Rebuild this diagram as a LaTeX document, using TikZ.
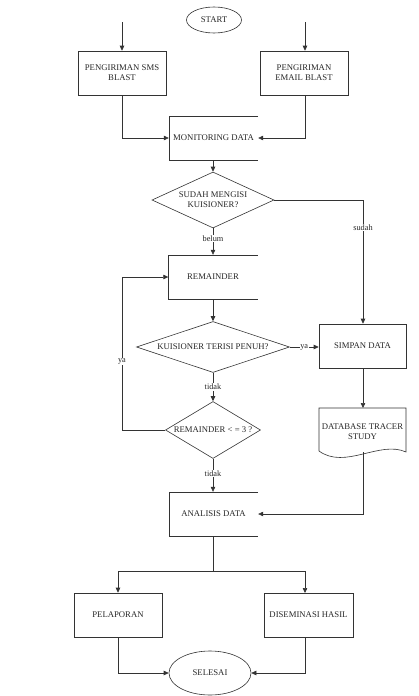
\documentclass[tikz,border=0pt]{standalone}
\usepackage{fontspec}
\setmainfont{Liberation Serif}
\usetikzlibrary{arrows.meta,shapes.geometric}
\begin{document}
\begin{tikzpicture}[x=1pt,y=-1pt,
 line/.style={draw=black!80, line width=0.6pt},
 arr/.style={line, -{Triangle[length=5pt,width=4.5pt]}},
 txt/.style={font=\fontsize{8.7}{10}\selectfont, align=center, inner sep=0pt, text=black!85},
 box/.style={txt, line, rectangle, minimum width=88pt, minimum height=44pt},
 obox/.style={txt, rectangle, minimum width=89pt, minimum height=44pt},
 dia/.style={txt, line, diamond},
 ell/.style={txt, line, ellipse},
 lbl/.style={font=\fontsize{8.3}{9}\selectfont, fill=white, inner sep=0.6pt, text=black!85},
]
\useasboundingbox (0,0) rectangle (419,696);

% nodes
\node[ell, minimum width=55pt, minimum height=26pt] (start) at (214,20) {START};
\node[box] (sms) at (122,73) {PENGIRIMAN SMS\\BLAST};
\node[box] (email) at (304,73) {PENGIRIMAN\\EMAIL BLAST};
\node[obox] (mon) at (213.5,138) {MONITORING DATA};
\draw[line] (mon.north east) -- (mon.north west) -- (mon.south west) -- (mon.south east);
\node[dia, minimum width=122pt, minimum height=56pt, shape aspect=2.18] (d1) at (213,200) {SUDAH MENGISI\\KUISIONER?};
\node[obox] (rem) at (213,277) {REMAINDER};
\draw[line] (rem.north east) -- (rem.north west) -- (rem.south west) -- (rem.south east);
\node[dia, minimum width=153pt, minimum height=51pt, shape aspect=3] (d2) at (213,347) {KUISIONER TERISI PENUH?};
\node[dia, minimum width=95pt, minimum height=57pt, shape aspect=1.67] (d3) at (213,430) {REMAINDER < = 3 ?};
\node[box, minimum width=87pt] (simpan) at (362.5,346) {SIMPAN DATA};
% database (document shape)
\draw[line] (319,408) -- (406,408) -- (406,452) .. controls (380,440) and (345,470) .. (319,451) -- cycle;
\node[txt] (db) at (362.5,432) {DATABASE TRACER\\STUDY};
\coordinate (dbtop) at (363,408);
\coordinate (dbbot) at (363,452);
\node[obox] (ana) at (213.5,514) {ANALISIS DATA};
\draw[line] (ana.north east) -- (ana.north west) -- (ana.south west) -- (ana.south east);
\node[box] (pel) at (118,615) {PELAPORAN};
\node[box, minimum width=89pt] (dis) at (308.5,615) {DISEMINASI HASIL};
\node[ell, minimum width=82pt, minimum height=44pt] (sel) at (210,673) {SELESAI};

% free ends
\coordinate (smsin) at (122,22);
\coordinate (emailin) at (305,22);
\coordinate (loop) at (122,430);
\coordinate (split) at (213,571);

% connectors
\draw[arr] (smsin) -- (sms.north);
\draw[arr] (emailin) -- (emailin |- email.north);
\draw[arr] (sms.south) |- (mon.west);
\draw[arr] (emailin |- email.south) |- (mon.east);
\draw[arr] (mon.south -| d1.north) -- (d1.north);
\draw[arr] (d1.south) -- node[lbl, pos=0.4]{belum} (rem.north);
\draw[arr] (d1.east) -| node[lbl, pos=0.613]{sudah} (dbtop |- simpan.north);
\draw[arr] (rem.south) -- (d2.north);
\draw[arr] (d2.east) -- node[lbl]{ya} (d2.east -| simpan.west);
\draw[arr] (d2.south) -- node[lbl]{tidak} (d3.north);
\draw[arr] (d3.west) -- (loop) |- node[lbl, pos=0.225]{ya} (rem.west);
\draw[arr] (d3.south) -- node[lbl, pos=0.45]{tidak} (d3.south |- ana.north);
\draw[arr] (dbtop |- simpan.south) -- (dbtop);
\draw[arr] (dbbot) |- (ana.east);
\draw[line] (ana.south -| split) -- (split);
\draw[arr] (split) -| (pel.north);
\draw[arr] (split) -| (305,593);
\draw[arr] (pel.south) |- (sel.west);
\draw[arr] (305,637) |- (sel.east);
\end{tikzpicture}
\end{document}
